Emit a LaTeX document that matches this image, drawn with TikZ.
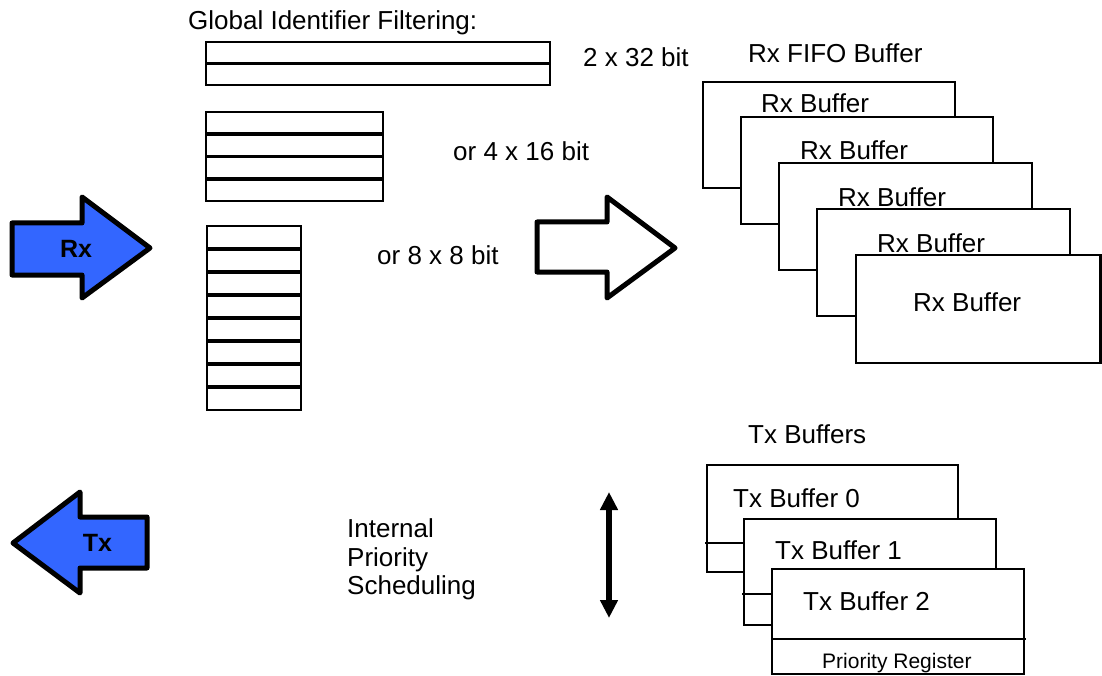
\documentclass[tikz,border=0pt]{standalone}
\usepackage{fontspec}
\setmainfont{Liberation Sans}
\usetikzlibrary{arrows.meta}
\definecolor{arrowblue}{HTML}{3366FF}
\begin{document}
\begin{tikzpicture}[x=1pt,y=-1pt,
  lbl/.style={inner sep=0pt, anchor=base west, font=\fontsize{26}{30}\selectfont},
  smalllbl/.style={inner sep=0pt, anchor=base west, font=\fontsize{21}{25}\selectfont},
  arrowlbl/.style={inner sep=0pt, font=\bfseries\fontsize{25}{30}\selectfont},
  bigarrow/.style={draw=black, line width=5pt, line join=round},
  buf/.style={draw=black, fill=white, line width=2.5pt},
  cell/.style={draw=black, line width=2pt},
  sep/.style={draw=black, line width=3.5pt},
  divider/.style={draw=black, line width=2.5pt},
  dblarrow/.style={line width=6pt, {Triangle[width=17pt,length=18pt]}-{Triangle[width=17pt,length=18pt]}},
]
\useasboundingbox (0,0) rectangle (1102,676);
\fill[white] (0,0) rectangle (1102,676);

% receive / transmit block arrows
\draw[bigarrow, fill=arrowblue] (12,223) -- (82,223) -- (82,197) -- (150,248)
  -- (82,298) -- (82,275) -- (12,275) -- cycle;
\node[arrowlbl] (rx) at (76,249) {Rx};
\draw[bigarrow, fill=arrowblue] (13,543) -- (80,492) -- (80,517) -- (147,517)
  -- (147,568) -- (80,568) -- (80,593) -- cycle;
\node[arrowlbl] (tx) at (97.5,543) {Tx};

% identifier filter banks
\node[lbl] (gif) at (188,30) {Global Identifier Filtering:};
\draw[cell] (206,42) rectangle (550,85);
\draw[sep] (206,63.5) -- (550,63.5);
\node[lbl] (f32) at (583,67) {2 x 32 bit};

\draw[cell] (206,112) rectangle (383,201);
\foreach \y in {134,156.5,179} \draw[sep] (206,\y) -- (383,\y);
\node[lbl] (f16) at (453,161) {or 4 x 16 bit};

\draw[cell] (207,226) rectangle (301,410);
\foreach \y in {249,272,295,318,341,364,387} \draw[sep] (207,\y) -- (301,\y);
\node[lbl] (f8) at (377,264) {or 8 x 8 bit};

% hollow arrow into the receive FIFO
\draw[bigarrow, fill=white] (537,222) -- (607,222) -- (607,197) -- (675,248)
  -- (607,298) -- (607,272) -- (537,272) -- cycle;

% receive FIFO
\node[lbl] (fifo) at (748,63) {Rx FIFO Buffer};
\draw[buf] (703,82) rectangle (955,188);
\node[lbl] (rb1) at (761,113) {Rx Buffer};
\draw[buf] (741,117) rectangle (993,224);
\node[lbl] (rb2) at (800,160) {Rx Buffer};
\draw[buf] (779,163) rectangle (1032,270);
\node[lbl] (rb3) at (838,207) {Rx Buffer};
\draw[buf] (817,209) rectangle (1070,316);
\node[lbl] (rb4) at (877,253) {Rx Buffer};
\draw[buf] (856,255) rectangle (1100.5,363);
\node[lbl] (rb5) at (913,311) {Rx Buffer};

% priority scheduling
\node[lbl] (ips1) at (347,537) {Internal};
\node[lbl] (ips2) at (347,566) {Priority};
\node[lbl] (ips3) at (347,594) {Scheduling};
\coordinate (pt) at (609,492);
\coordinate (pb) at (609,618);
\draw[dblarrow] (pt) -- (pb);

% transmit buffers
\node[lbl] (txb) at (748,443) {Tx Buffers};
\draw[buf] (707,465) rectangle (958,572);
\draw[divider] (705,543) -- (958,543);
\node[lbl] (tb0) at (733,507) {Tx Buffer 0};
\draw[buf] (744,519) rectangle (996,625);
\draw[divider] (742,594) -- (996,594);
\node[lbl] (tb1) at (775,559) {Tx Buffer 1};
\draw[buf] (772,569) rectangle (1024,674);
\draw[divider] (772,639) -- (1026,639);
\node[lbl] (tb2) at (803,610) {Tx Buffer 2};
\node[smalllbl] (prio) at (822,668) {Priority Register};
\end{tikzpicture}
\end{document}
